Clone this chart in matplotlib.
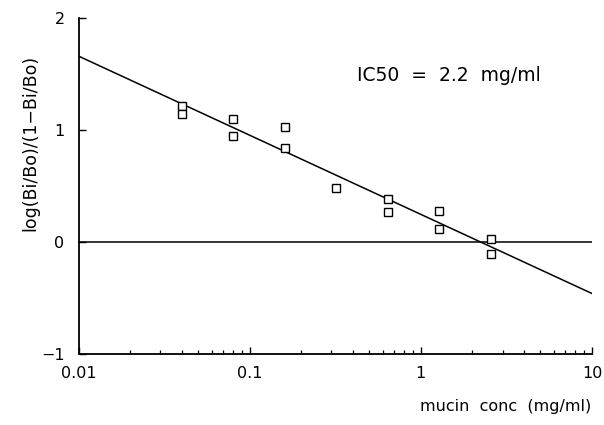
import numpy as np
import matplotlib
matplotlib.use("Agg")
import matplotlib.pyplot as plt
from matplotlib.ticker import LogLocator, FixedLocator, NullFormatter

# data
conc = [0.04, 0.04, 0.08, 0.08, 0.16, 0.16, 0.32, 0.64, 0.64, 1.28, 1.28, 2.56, 2.56]
logit = [1.21, 1.14, 1.10, 0.95, 1.03, 0.84, 0.48, 0.38, 0.27, 0.28, 0.12, 0.03, -0.11]
fit_x = [0.01, 10]
fit_y = [1.66, -0.46]
xticks = [0.01, 0.1, 1, 10]
xticklabels = ["0.01", "0.1", "1", "10"]
yticks = [-1, 0, 1, 2]
yticklabels = ["\u22121", "0", "1", "2"]
annotation = "IC50  =  2.2  mg/ml"
xlabel = "mucin  conc  (mg/ml)"
ylabel = "log(Bi/Bo)/(1\u2212Bi/Bo)"

plt.rcParams['font.family'] = ['DejaVu Sans']

fig = plt.figure(figsize=(6.04, 4.25), dpi=100)
ax = fig.add_axes([78.5/604, 1-354/425, (592-78.5)/604, (354-18)/425])
ax.set_xscale('log')
ax.set_xlim(0.01, 10)
ax.set_ylim(-1, 2)

ax.plot(fit_x, fit_y, color='black', lw=1.1)
ax.axhline(0, color='black', lw=1.1)
ax.plot(conc, logit, linestyle='none', marker='s', markersize=5.2,
        markerfacecolor='white', markeredgecolor='black', markeredgewidth=1.0)

ax.spines['top'].set_visible(False)
ax.spines['right'].set_visible(False)
ax.spines['left'].set_linewidth(1.3)
ax.spines['bottom'].set_linewidth(1.3)

ax.xaxis.set_major_locator(FixedLocator(xticks))
ax.set_xticklabels(xticklabels)
ax.xaxis.set_minor_locator(LogLocator(base=10, subs=np.arange(2, 10)))
ax.xaxis.set_minor_formatter(NullFormatter())
ax.set_yticks(yticks)
ax.set_yticklabels(yticklabels)

ax.tick_params(axis='both', which='major', direction='in', length=5, width=1,
               labelsize=11.5, colors='black')
ax.tick_params(axis='x', which='major', pad=9)
ax.tick_params(axis='y', which='major', pad=10)
ax.tick_params(axis='x', which='minor', direction='in', length=3, width=0.9)

ax.text(1.45, 1.49, annotation, ha='center', va='center', fontsize=13.5)

fig.text(591/604, 1-407/425, xlabel, ha='right', va='center', fontsize=11.5)
fig.text(30/604, 1-143/425, ylabel, ha='center', va='center', rotation=90, fontsize=12.5)

fig.savefig("out.png", dpi=100)
